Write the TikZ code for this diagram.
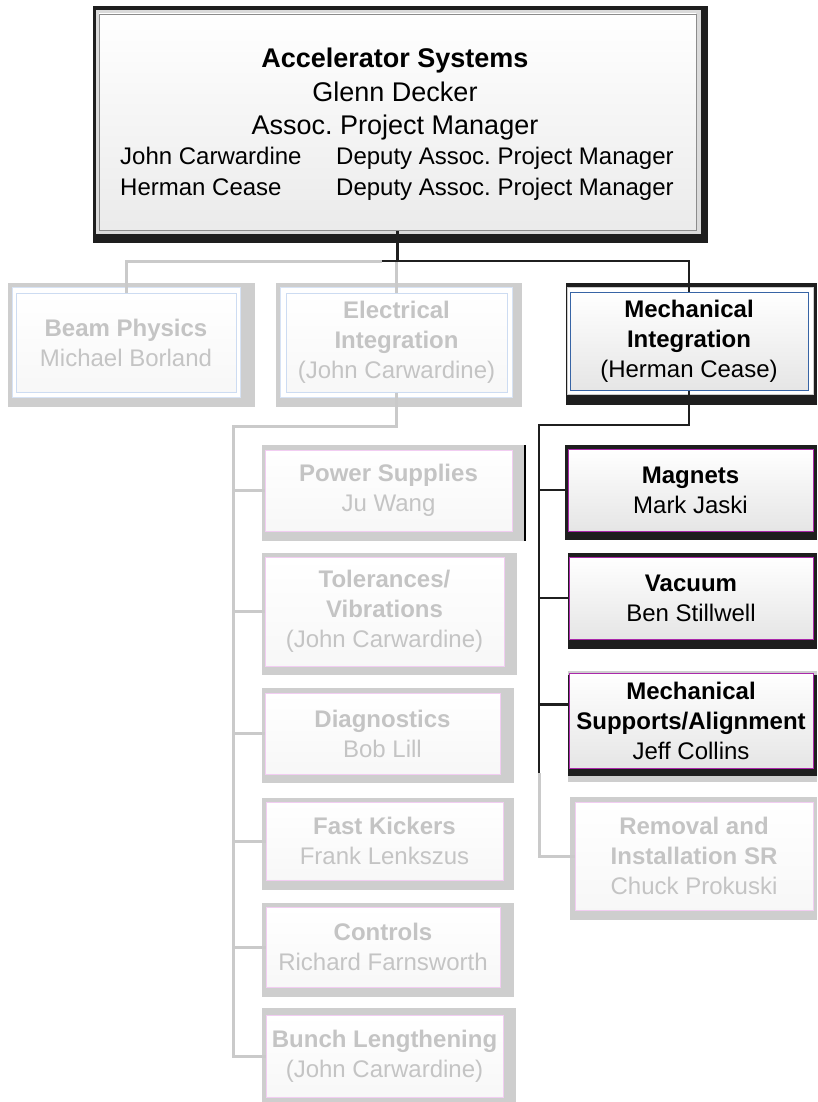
\documentclass[tikz,border=0pt]{standalone}
\usepackage{fontspec}
\setmainfont{Liberation Sans}
\usetikzlibrary{backgrounds}
\definecolor{fadetext}{RGB}{196,196,196}
\definecolor{fadeline}{RGB}{202,202,202}
\definecolor{fadeshadow}{RGB}{206,206,206}
\definecolor{darkframe}{RGB}{30,30,30}
\definecolor{pinkline}{RGB}{242,205,242}
\definecolor{lblue}{RGB}{205,220,242}
\definecolor{magline}{RGB}{170,40,170}
\definecolor{dblue}{RGB}{55,100,165}
\tikzset{
  box/.style={rectangle, inner sep=0pt, outer sep=0pt, align=center,
    font=\fontsize{24}{30}\selectfont, line width=0.8pt},
  fadebox/.style={box, draw=pinkline, top color=white, bottom color=black!3, text=fadetext},
  bluefade/.style={fadebox, draw=lblue},
  darkbox/.style={box, draw=magline, top color=white, bottom color=black!10, text=black},
  bluedark/.style={darkbox, draw=dblue},
  topbox/.style={box, draw=black!45, top color=white, bottom color=black!8},
  bigtxt/.style={font=\fontsize{27}{33}\selectfont, inner sep=0pt, anchor=base},
  smalltxt/.style={font=\fontsize{24}{30}\selectfont, inner sep=0pt, anchor=base west},
  darkconn/.style={draw=black!88, line width=2.5pt},
  fadeconn/.style={draw=fadeline, line width=3pt},
  darkframefill/.style={fill=darkframe},
  fadeframefill/.style={fill=fadeshadow},
}
\begin{document}
\frenchspacing
\begin{tikzpicture}[x=1pt,y=-1pt]
\useasboundingbox (0,0) rectangle (817,1102);

% ---------- boxes ----------
\node[topbox, minimum width=597pt, minimum height=216pt] (top) at (397.5,122) {};
\node[bigtxt] (t1) at (395,68) {\bfseries Accelerator Systems};
\node[bigtxt] (t2) at (395,102) {Glenn Decker};
\node[bigtxt] (t3) at (395,135) {Assoc. Project Manager};
\node[smalltxt] (t4a) at (120,165) {John Carwardine};
\node[smalltxt] (t4b) at (336,165) {Deputy Assoc. Project Manager};
\node[smalltxt] (t5a) at (120,195) {Herman Cease};
\node[smalltxt] (t5b) at (336,195) {Deputy Assoc. Project Manager};

\node[bluefade, minimum width=220pt, minimum height=99pt] (bp) at (126,342.5)
  {\textbf{Beam Physics}\\Michael Borland};
\node[bluefade, minimum width=221pt, minimum height=99pt] (ei) at (396.5,342.5)
  {\textbf{Electrical}\\\textbf{Integration}\\(John Carwardine)};
\node[bluedark, minimum width=238pt, minimum height=98pt] (mi) at (689,341)
  {\textbf{Mechanical}\\\textbf{Integration}\\(Herman Cease)};

\node[darkbox, minimum width=245pt, minimum height=82pt] (mag) at (690.5,490)
  {\textbf{Magnets}\\Mark Jaski};
\node[darkbox, minimum width=244pt, minimum height=82pt] (vac) at (691,598)
  {\textbf{Vacuum}\\Ben Stillwell};
\node[darkbox, minimum width=244pt, minimum height=95pt] (msa) at (691,720.5)
  {\textbf{Mechanical}\\\textbf{Supports/Alignment}\\Jeff Collins};
\node[fadebox, minimum width=238pt, minimum height=108pt] (rem) at (694,856)
  {\textbf{Removal and}\\\textbf{Installation SR}\\Chuck Prokuski};

\node[fadebox, minimum width=247pt, minimum height=81pt] (ps) at (388.5,490.5)
  {\textbf{Power Supplies}\\Ju Wang};
\node[fadebox, minimum width=239pt, minimum height=109pt] (tol) at (384.5,611.5)
  {\textbf{Tolerances/}\\\textbf{Vibrations}\\(John Carwardine)};
\node[fadebox, minimum width=235pt, minimum height=81pt] (dia) at (382.5,733.5)
  {\textbf{Diagnostics}\\Bob Lill};
\node[fadebox, minimum width=237pt, minimum height=78pt] (fk) at (384.5,841)
  {\textbf{Fast Kickers}\\Frank Lenkszus};
\node[fadebox, minimum width=234pt, minimum height=80pt] (ctl) at (383,947)
  {\textbf{Controls}\\Richard Farnsworth};
\node[fadebox, minimum width=237pt, minimum height=82pt] (bl) at (384.5,1056)
  {\textbf{Bunch Lengthening}\\(John Carwardine)};

\begin{pgfonlayer}{background}
% ---------- frames / shadows ----------
\fill[darkframefill] (93,6) rectangle (708,243);
\fill[black!14] (96,10) rectangle (701,234);
\fill[fadeframefill] (8,283) rectangle (255,407);
\filldraw[fill=white, draw=lblue!80, line width=0.8pt] (12,287) rectangle (240,397);
\fill[fadeframefill] (276,283) rectangle (522,407);
\filldraw[fill=white, draw=lblue!80, line width=0.8pt] (280,287) rectangle (512,397);
\fill[darkframefill] (566,283) rectangle (817,405);
\filldraw[fill=white, draw=black!20, line width=0.8pt] (567,287) rectangle (813,394);
\fill[darkframefill] (565,445) rectangle (817,540);
\fill[darkframefill] (568,553) rectangle (817,649);
\fill[fadeframefill] (568,671) rectangle (817,782);
\fill[darkframefill] (568,675) rectangle (817,776);
\fill[fadeframefill] (570,797) rectangle (817,920);
\fill[fadeframefill] (262,445) rectangle (525,541);
\draw[black, line width=1.2pt] (525,445) -- (525,541);
\fill[fadeframefill] (262,553) rectangle (517,675);
\fill[fadeframefill] (262,688) rectangle (514,783);
\fill[fadeframefill] (262,798) rectangle (514,890);
\fill[fadeframefill] (262,903) rectangle (514,997);
\fill[fadeframefill] (262,1008) rectangle (516,1102);

% ---------- connectors ----------
\coordinate (jt) at (397,261);
\coordinate (jL) at (382,261);
\coordinate (jm) at (539,425);
\coordinate (mend) at (539,773);
\coordinate (je) at (233,426);

\draw[fadeconn] (jL) -| (bp.north);
\draw[fadeconn] (ei.north |- jt) -- (ei.north);
\draw[darkconn] (top.south) -- (top.south |- jt);
\draw[darkconn] (jL) -| (mi.north);

\draw[fadeconn] (ei.south) |- (je) -- (je |- bl.west) -- (bl.west);
\draw[fadeconn] (je |- ps.west) -- (ps.west);
\draw[fadeconn] (je |- tol.west) -- (tol.west);
\draw[fadeconn] (je |- dia.west) -- (dia.west);
\draw[fadeconn] (je |- fk.west) -- (fk.west);
\draw[fadeconn] (je |- ctl.west) -- (ctl.west);

\draw[fadeconn] (mend) |- (rem.west);
\draw[darkconn] (mi.south) |- (jm) -- (mend);
\draw[darkconn] (jm |- mag.west) -- (mag.west);
\draw[darkconn] (jm |- vac.west) -- (vac.west);
\draw[darkconn] ([yshift=16pt]msa.west -| jm) -- ([yshift=16pt]msa.west);
\end{pgfonlayer}
\end{tikzpicture}
\end{document}
